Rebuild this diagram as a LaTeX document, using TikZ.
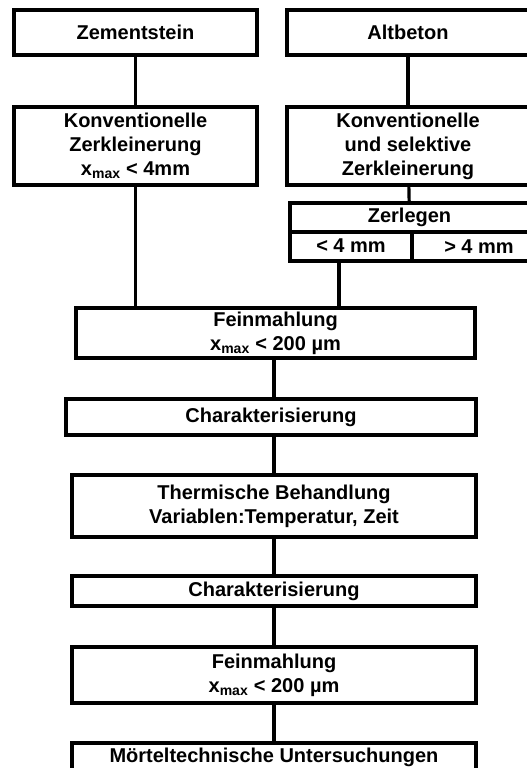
\documentclass[tikz,border=0pt]{standalone}
\usepackage{fontspec}
\setmainfont{Liberation Sans}
\usepackage{tikz}

\begin{document}
\begin{tikzpicture}[x=1pt,y=-1pt]
    \tikzset{kasten/.style = {shape=rectangle,draw,line width=3.2pt,align=center,inner sep=0pt,
        font=\fontsize{20}{24}\selectfont\bfseries}}
    \tikzset{linie/.style = {line width=3.2pt}}

    \clip (0,0) rectangle (527,768);

    \node[kasten,minimum width=243,minimum height=45] (stein) at (135.5,32.5) {Zementstein};
    \node[kasten,minimum width=242,minimum height=45] (alt) at (408,32.5) {Altbeton};

    \node[kasten,minimum width=243,minimum height=78] (konvL) at (135.5,146)
        {Konventionelle\\Zerkleinerung\\x\textsubscript{max} < 4mm};
    \node[kasten,minimum width=242,minimum height=78] (konvR) at (408,146)
        {Konventionelle\\und selektive\\Zerkleinerung};

    % Zerlegen mit zwei Fraktionen
    \node[kasten,minimum width=239,minimum height=29] (zerl) at (409.5,217.5) {Zerlegen};
    \node[kasten,minimum width=122,minimum height=29] (klein) at (351,246.5) {\raisebox{1pt}{< 4 mm}};
    \node[kasten,minimum width=134,minimum height=29] (gross) at (479,246.5) {\raisebox{-2pt}{> 4 mm}};

    \node[kasten,minimum width=399,minimum height=50] (fein1) at (275.5,333)
        {Feinmahlung\\x\textsubscript{max} < 200 µm};
    \node[kasten,minimum width=410,minimum height=36] (char1) at (271,417) {Charakterisierung};
    \node[kasten,minimum width=404,minimum height=62] (therm) at (274,506)
        {Thermische Behandlung\\Variablen:Temperatur, Zeit};
    \node[kasten,minimum width=404,minimum height=30] (char2) at (274,591) {Charakterisierung};
    \node[kasten,minimum width=404,minimum height=56] (fein2) at (274,675)
        {Feinmahlung\\x\textsubscript{max} < 200 µm};
    \node[kasten,minimum width=404,minimum height=29] (moertel) at (274,757.5)
        {Mörteltechnische Untersuchungen};

    \draw[linie] (stein) -- (konvL);
    \draw[linie] (alt) -- (konvR);
    \draw[linie] (konvR) -- (zerl);
    \draw[linie] (konvL.south) -- (konvL.south |- fein1.north);
    \draw[linie] ([xshift=-12pt]klein.south) -- ([xshift=-12pt]klein.south |- fein1.north);
    \draw[linie] (therm.north |- fein1.south) -- (therm.north |- char1.north);
    \draw[linie] (therm.north |- char1.south) -- (therm.north);
    \draw[linie] (therm) -- (char2);
    \draw[linie] (char2) -- (fein2);
    \draw[linie] (fein2) -- (moertel);

\end{tikzpicture}
\end{document}
